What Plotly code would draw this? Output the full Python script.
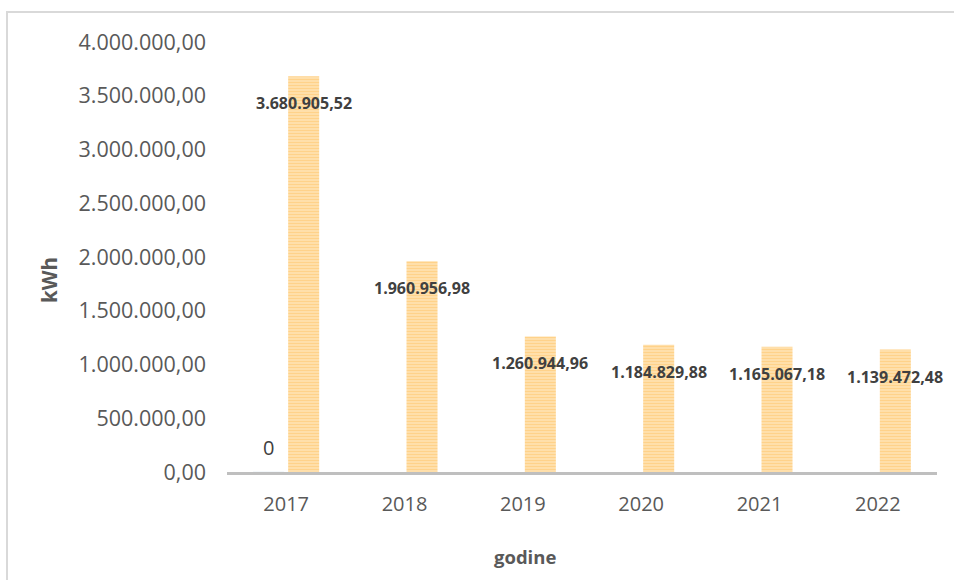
import plotly.graph_objects as go

years = ["2017", "2018", "2019", "2020", "2021", "2022"]
consumption = [3680905.52, 1960956.98, 1260944.96, 1184829.88, 1165067.18, 1139472.48]
labels = ["3.680.905,52", "1.960.956,98", "1.260.944,96", "1.184.829,88", "1.165.067,18", "1.139.472,48"]
zero_series = [0, None, None, None, None, None]
zero_labels = ["0", "", "", "", "", ""]
ytick_vals = [0, 500000, 1000000, 1500000, 2000000, 2500000, 3000000, 3500000, 4000000]
ytick_text = ["0,00", "500.000,00", "1.000.000,00", "1.500.000,00", "2.000.000,00",
              "2.500.000,00", "3.000.000,00", "3.500.000,00", "4.000.000,00"]

W, H = 954, 580
L, R, T, B = 227, 17, 42, 108
pw, ph = W - L - R, H - T - B
FONT = "Open Sans"

fig = go.Figure()
fig.add_trace(go.Bar(x=years, y=zero_series, marker=dict(color="rgba(0,0,0,0)"),
                     hoverinfo="skip", showlegend=False))
fig.add_trace(go.Bar(
    x=years, y=consumption, showlegend=False,
    marker=dict(color="#FFD38A", line=dict(width=0),
                pattern=dict(shape="-", size=3, solidity=0.5,
                             fgcolor="#FFC060", bgcolor="#FFE4B5", fillmode="overlay")),
))

catw = pw / len(years)
bargap = 0.408
slot = (1 - bargap) * catw / 2
annots = []
for i, (v, t) in enumerate(zip(consumption, labels)):
    annots.append(dict(x=i, y=v, text="<b>%s</b>" % t, showarrow=False,
                       xshift=slot / 2, yshift=-27,
                       font=dict(family=FONT, size=16, color="#404040")))
for i, (v, t) in enumerate(zip(zero_series, zero_labels)):
    if v is not None and t:
        annots.append(dict(x=i, y=v, text=t, showarrow=False,
                           xshift=-slot / 2, yshift=25,
                           font=dict(family=FONT, size=20, color="#404040")))
annots.append(dict(xref="paper", yref="paper", x=(49 - L) / pw, y=(H - B - 280) / ph,
                   xanchor="center", yanchor="middle",
                   text="<b>kWh</b>", textangle=-90, showarrow=False,
                   font=dict(family=FONT, size=20.5, color="#595959")))
annots.append(dict(xref="paper", yref="paper", x=(525 - L) / pw, y=(H - B - 556) / ph,
                   xanchor="center", yanchor="middle",
                   text="<b>godine</b>", showarrow=False,
                   font=dict(family=FONT, size=18.5, color="#595959")))

fig.update_layout(
    width=W, height=H, margin=dict(l=L, r=R, t=T, b=B),
    paper_bgcolor="white", plot_bgcolor="white",
    barmode="group", bargap=bargap, bargroupgap=0.114,
    annotations=annots,
    font=dict(family=FONT, color="#595959"),
    shapes=[
        dict(type="rect", xref="paper", yref="paper",
             x0=(7 - L) / pw, x1=1.2, y0=-0.5, y1=(H - B - 12) / ph,
             line=dict(color="#d9d9d9", width=2), fillcolor="rgba(0,0,0,0)", layer="below"),
    ],
)
fig.update_xaxes(type="category", range=[-0.5, len(years) - 0.5], showgrid=False,
                 showline=True, linecolor="#bfbfbf",
                 linewidth=3, ticks="", tickfont=dict(family=FONT, size=20, color="#595959"),
                 zeroline=False, ticklabelstandoff=12)
fig.update_yaxes(range=[0, 4000000], tickvals=ytick_vals, ticktext=ytick_text,
                 showgrid=False, zeroline=False, showline=False, ticks="",
                 tickfont=dict(family=FONT, size=21.5, color="#595959"), ticklabelstandoff=20)

fig.write_html("out.html", config={"displayModeBar": False},
               post_script="document.body.style.margin='0px';")
